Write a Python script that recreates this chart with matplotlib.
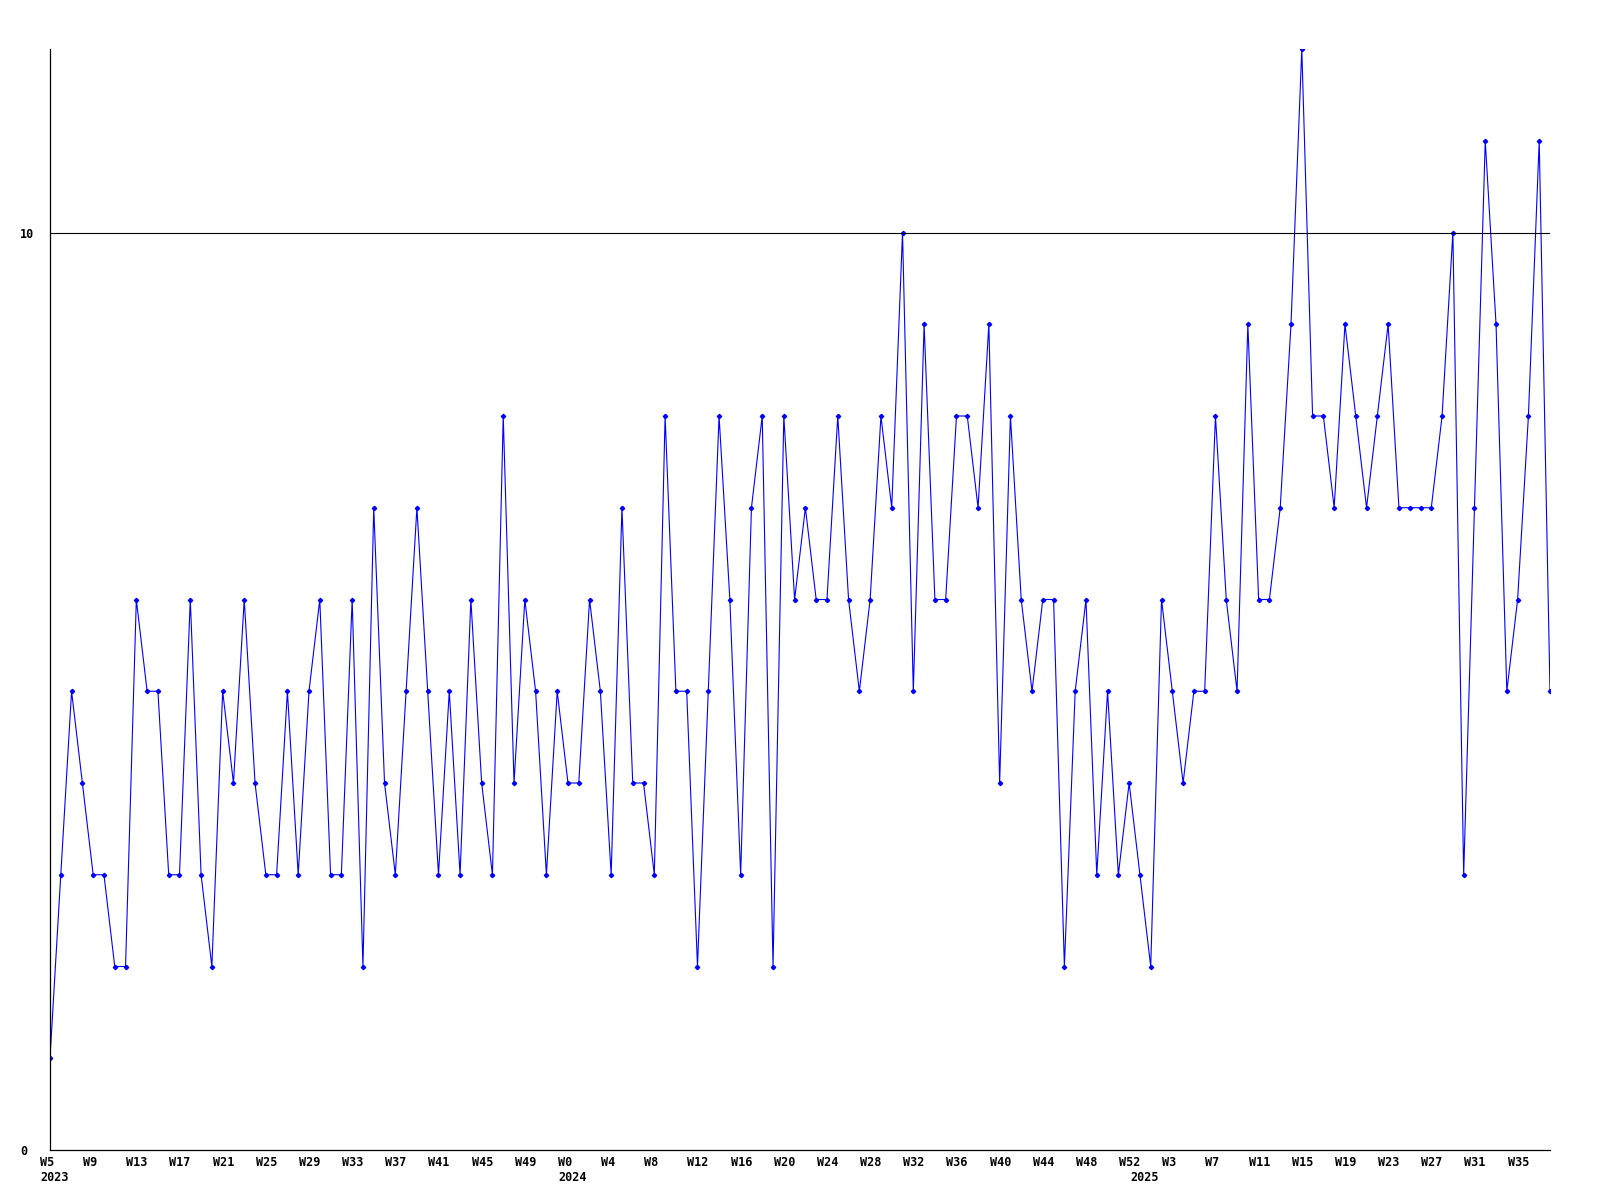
import matplotlib
matplotlib.use('Agg')
import matplotlib.pyplot as plt
from matplotlib.transforms import ScaledTranslation

# weekly counts, first point is 2023 W5, last is 2025 W38
counts = [1, 3, 5, 4, 3, 3, 2, 2, 6, 5, 5, 3, 3, 6, 3, 2, 5, 4, 6, 4, 3, 3, 5, 3,
          5, 6, 3, 3, 6, 2, 7, 4, 3, 5, 7, 5, 3, 5, 3, 6, 4, 3, 8, 4, 6, 5, 3,
          5, 4, 4, 6, 5, 3, 7, 4, 4, 3, 8, 5, 5, 2, 5, 8, 6, 3, 7, 8, 2, 8, 6,
          7, 6, 6, 8, 6, 5, 6, 8, 7, 10, 5, 9, 6, 6, 8, 8, 7, 9, 4, 8, 6, 5, 6,
          6, 2, 5, 6, 3, 5, 3, 4, 3, 2, 6, 5, 4, 5, 5, 8, 6, 5, 9, 6, 6, 7, 9,
          12, 8, 8, 7, 9, 8, 7, 8, 9, 7, 7, 7, 7, 8, 10, 3, 7, 11, 9, 5, 6, 8, 11, 5]

week_ticks = ['W5', 'W9', 'W13', 'W17', 'W21', 'W25', 'W29', 'W33', 'W37', 'W41', 'W45', 'W49',
              'W0', 'W4', 'W8', 'W12', 'W16', 'W20', 'W24', 'W28', 'W32', 'W36', 'W40', 'W44', 'W48',
              'W52', 'W3', 'W7', 'W11', 'W15', 'W19', 'W23', 'W27', 'W31', 'W35']
years = ['2023', '2024', '2025']
year_start = [0, 48, 101]   # index of the first week of each year
y_ticks = [0, 10]

font = dict(family='DejaVu Sans Mono', weight='bold', size=8.5)

fig = plt.figure(figsize=(16, 12), dpi=100)
ax = fig.add_axes([50 / 1600, 50 / 1200, 1500 / 1600, 1101 / 1200])

x = list(range(len(counts)))
ax.plot(x, counts, color='#0000ff', lw=0.8, marker='D', markersize=2.2,
        markerfacecolor='#0000ff', markeredgecolor='#0000ff')

ax.set_xlim(0, len(counts) - 1)
ax.set_ylim(0, 12)

for s in ['top', 'right']:
    ax.spines[s].set_visible(False)
for s in ['left', 'bottom']:
    ax.spines[s].set_linewidth(0.9)
    ax.spines[s].set_color('black')

ax.axhline(10, color='black', lw=0.8)

ax.set_xticks(range(0, len(counts), 4))
ax.set_xticklabels(week_ticks, **font)
ax.tick_params(axis='x', length=0, pad=4)
shift = ScaledTranslation(-10 / 100, 0, fig.dpi_scale_trans)
for lab in ax.get_xticklabels():
    lab.set_ha('left')
    lab.set_transform(lab.get_transform() + shift)

ax.set_yticks(y_ticks)
ax.set_yticklabels([str(v) for v in y_ticks], **font)
ax.tick_params(axis='y', length=0, pad=21.6)
for lab in ax.get_yticklabels():
    lab.set_ha('left')

for yr, pos in zip(years, year_start):
    ax.annotate(yr, xy=(pos, 0), xycoords='data', xytext=(-7.2, -15),
                textcoords='offset points', ha='left', va='top',
                annotation_clip=False, **font)

fig.savefig('out.png', dpi=100)
